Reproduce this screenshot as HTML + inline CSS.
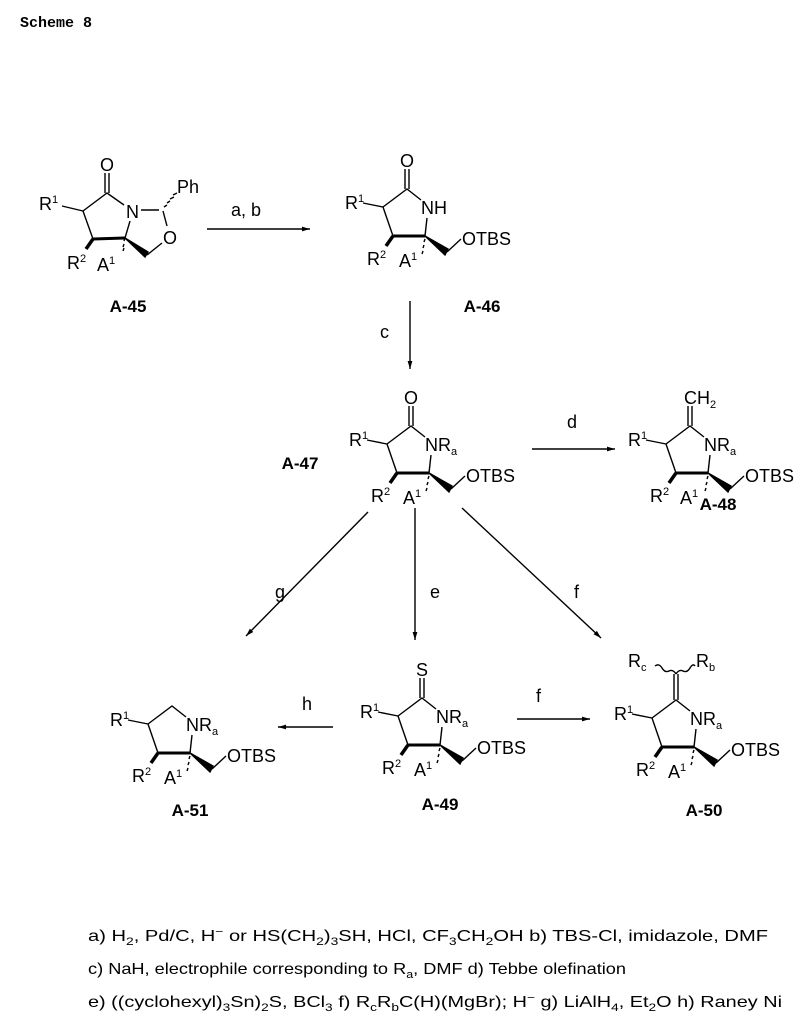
<!DOCTYPE html>
<html><head><meta charset="utf-8"><style>
html,body{margin:0;padding:0;background:#fff;}
svg{display:block;}
text{font-family:"Liberation Sans",sans-serif;font-size:18px;fill:#000;}
.lbl{font-weight:bold;font-size:17px;}
.fn{font-size:16px;}
</style></head><body>
<svg width="808" height="1024" viewBox="0 0 808 1024" xmlns="http://www.w3.org/2000/svg">
<defs>
<marker id="ah" viewBox="0 0 10 10" refX="10" refY="5" markerWidth="8" markerHeight="8" orient="auto" markerUnits="userSpaceOnUse"><path d="M0,2 L10,5 L0,8 z" fill="#000"/></marker>
</defs>
<text x="20" y="27" style="font-family:'Liberation Mono',monospace;font-weight:bold;font-size:15px">Scheme 8</text>

<g stroke="#000" stroke-width="1.4" fill="none">
<line x1="207" y1="229" x2="310" y2="229" marker-end="url(#ah)"/>
<line x1="410" y1="301" x2="410" y2="369" marker-end="url(#ah)"/>
<line x1="532" y1="449" x2="615" y2="449" marker-end="url(#ah)"/>
<line x1="368" y1="512" x2="246" y2="636" marker-end="url(#ah)"/>
<line x1="415" y1="508" x2="415" y2="640" marker-end="url(#ah)"/>
<line x1="462" y1="508" x2="601" y2="638" marker-end="url(#ah)"/>
<line x1="333" y1="727" x2="278" y2="727" marker-end="url(#ah)"/>
<line x1="517" y1="719" x2="590" y2="719" marker-end="url(#ah)"/>
</g>
<text x="231" y="216">a, b</text>
<text x="380" y="338">c</text>
<text x="567" y="428">d</text>
<text x="275" y="598">g</text>
<text x="430" y="598">e</text>
<text x="574" y="598">f</text>
<text x="302" y="710">h</text>
<text x="536" y="702">f</text>

<!-- A-45 -->
<g transform="translate(107,193)" stroke="#000" stroke-width="1.4" fill="none">
<line x1="-2" y1="-20" x2="-2" y2="0"/><line x1="2" y1="-20" x2="2" y2="0"/>
<polyline points="-24,18 0,0 17,12"/>
<line x1="-24" y1="18" x2="-14" y2="46"/>
<line x1="-14" y1="46" x2="18" y2="45" stroke-width="3"/>
<line x1="23" y1="28" x2="18" y2="45"/>
<line x1="-24" y1="18" x2="-45" y2="13"/>
<line x1="-14" y1="46" x2="-21" y2="56" stroke-width="3.5"/>
<path d="M18,45 l-1,3 M18,45 m-1,6 l-1,3 M17,55 l-1,3" />
<polygon points="18,45 38,64 41,59" fill="#000"/>
<line x1="40" y1="62" x2="55" y2="50"/>
<line x1="34" y1="17" x2="52" y2="17"/>
<line x1="56" y1="18" x2="60" y2="33"/>
<path d="M57,14 l3,-2 M60,10 l3,-2 M63,6 l4,-2 M66,2 l4,-2" />
</g>
<g transform="translate(107,193)">
<text x="0" y="-22" text-anchor="middle">O</text>
<text x="19" y="25">N</text>
<text x="56" y="51">O</text>
<text x="70" y="0">Ph</text>
<text x="-68" y="17">R<tspan font-size="11" dy="-7">1</tspan></text>
<text x="-40" y="76">R<tspan font-size="11" dy="-7">2</tspan></text>
<text x="-10" y="78">A<tspan font-size="11" dy="-7">1</tspan></text>
</g>
<text x="128" y="312" class="lbl" text-anchor="middle">A-45</text>

<!-- A-46 -->
<g transform="translate(407,189)">
<g stroke="#000" stroke-width="1.4" fill="none">
<line x1="-2" y1="-20" x2="-2" y2="0"/><line x1="2" y1="-20" x2="2" y2="0"/>
<polyline points="-24,18 0,0 14,11"/>
<line x1="-24" y1="18" x2="-14" y2="47"/>
<line x1="-14" y1="47" x2="18" y2="47" stroke-width="3"/>
<line x1="20" y1="29" x2="18" y2="47"/>
<line x1="-24" y1="18" x2="-44" y2="14"/>
<line x1="-14" y1="47" x2="-21" y2="57" stroke-width="3.5"/>
<path d="M18,50 l-1,3 M17,56 l-1,3 M16,62 l-1,3"/>
<polygon points="18,47 38,66 41,60" fill="#000"/>
<line x1="40" y1="63" x2="54" y2="50"/>
</g>
<text x="0" y="-22" text-anchor="middle">O</text>
<text x="14" y="25">NH</text>
<text x="55" y="56">OTBS</text>
<text x="-62" y="20">R<tspan font-size="11" dy="-7">1</tspan></text>
<text x="-40" y="76">R<tspan font-size="11" dy="-7">2</tspan></text>
<text x="-8" y="78">A<tspan font-size="11" dy="-7">1</tspan></text>
</g>
<text x="482" y="312" class="lbl" text-anchor="middle">A-46</text>

<!-- A-47 -->
<g transform="translate(411,426)">
<g stroke="#000" stroke-width="1.4" fill="none">
<line x1="-2" y1="-20" x2="-2" y2="0"/><line x1="2" y1="-20" x2="2" y2="0"/>
<polyline points="-24,18 0,0 14,11"/>
<line x1="-24" y1="18" x2="-14" y2="47"/>
<line x1="-14" y1="47" x2="18" y2="47" stroke-width="3"/>
<line x1="20" y1="29" x2="18" y2="47"/>
<line x1="-24" y1="18" x2="-44" y2="14"/>
<line x1="-14" y1="47" x2="-21" y2="57" stroke-width="3.5"/>
<path d="M18,50 l-1,3 M17,56 l-1,3 M16,62 l-1,3"/>
<polygon points="18,47 38,66 41,60" fill="#000"/>
<line x1="40" y1="63" x2="54" y2="50"/>
</g>
<text x="0" y="-22" text-anchor="middle">O</text>
<text x="14" y="25">NR<tspan font-size="11" dy="4">a</tspan></text>
<text x="55" y="56">OTBS</text>
<text x="-62" y="20">R<tspan font-size="11" dy="-7">1</tspan></text>
<text x="-40" y="76">R<tspan font-size="11" dy="-7">2</tspan></text>
<text x="-8" y="78">A<tspan font-size="11" dy="-7">1</tspan></text>
</g>
<text x="300" y="469" class="lbl" text-anchor="middle">A-47</text>

<!-- A-48 -->
<g transform="translate(690,426)">
<g stroke="#000" stroke-width="1.4" fill="none">
<line x1="-2" y1="-20" x2="-2" y2="0"/><line x1="2" y1="-20" x2="2" y2="0"/>
<polyline points="-24,18 0,0 14,11"/>
<line x1="-24" y1="18" x2="-14" y2="47"/>
<line x1="-14" y1="47" x2="18" y2="47" stroke-width="3"/>
<line x1="20" y1="29" x2="18" y2="47"/>
<line x1="-24" y1="18" x2="-44" y2="14"/>
<line x1="-14" y1="47" x2="-21" y2="57" stroke-width="3.5"/>
<path d="M18,50 l-1,3 M17,56 l-1,3 M16,62 l-1,3"/>
<polygon points="18,47 38,66 41,60" fill="#000"/>
<line x1="40" y1="63" x2="54" y2="50"/>
</g>
<text x="-6" y="-22">CH<tspan font-size="11" dy="4">2</tspan></text>
<text x="14" y="25">NR<tspan font-size="11" dy="4">a</tspan></text>
<text x="55" y="56">OTBS</text>
<text x="-62" y="20">R<tspan font-size="11" dy="-7">1</tspan></text>
<text x="-40" y="76">R<tspan font-size="11" dy="-7">2</tspan></text>
<text x="-10" y="78">A<tspan font-size="11" dy="-7">1</tspan></text>
</g>
<text x="718" y="510" class="lbl" text-anchor="middle">A-48</text>

<!-- A-51 -->
<g transform="translate(172,706)">
<g stroke="#000" stroke-width="1.4" fill="none">
<polyline points="-24,18 0,0 14,11"/>
<line x1="-24" y1="18" x2="-14" y2="47"/>
<line x1="-14" y1="47" x2="18" y2="47" stroke-width="3"/>
<line x1="20" y1="29" x2="18" y2="47"/>
<line x1="-24" y1="18" x2="-44" y2="14"/>
<line x1="-14" y1="47" x2="-21" y2="57" stroke-width="3.5"/>
<path d="M18,50 l-1,3 M17,56 l-1,3 M16,62 l-1,3"/>
<polygon points="18,47 38,66 41,60" fill="#000"/>
<line x1="40" y1="63" x2="54" y2="50"/>
</g>
<text x="14" y="25">NR<tspan font-size="11" dy="4">a</tspan></text>
<text x="55" y="56">OTBS</text>
<text x="-62" y="20">R<tspan font-size="11" dy="-7">1</tspan></text>
<text x="-40" y="76">R<tspan font-size="11" dy="-7">2</tspan></text>
<text x="-8" y="78">A<tspan font-size="11" dy="-7">1</tspan></text>
</g>
<text x="190" y="816" class="lbl" text-anchor="middle">A-51</text>

<!-- A-49 -->
<g transform="translate(422,698)">
<g stroke="#000" stroke-width="1.4" fill="none">
<line x1="-2" y1="-20" x2="-2" y2="0"/><line x1="2" y1="-20" x2="2" y2="0"/>
<polyline points="-24,18 0,0 14,11"/>
<line x1="-24" y1="18" x2="-14" y2="47"/>
<line x1="-14" y1="47" x2="18" y2="47" stroke-width="3"/>
<line x1="20" y1="29" x2="18" y2="47"/>
<line x1="-24" y1="18" x2="-44" y2="14"/>
<line x1="-14" y1="47" x2="-21" y2="57" stroke-width="3.5"/>
<path d="M18,50 l-1,3 M17,56 l-1,3 M16,62 l-1,3"/>
<polygon points="18,47 38,66 41,60" fill="#000"/>
<line x1="40" y1="63" x2="54" y2="50"/>
</g>
<text x="0" y="-22" text-anchor="middle">S</text>
<text x="14" y="25">NR<tspan font-size="11" dy="4">a</tspan></text>
<text x="55" y="56">OTBS</text>
<text x="-62" y="20">R<tspan font-size="11" dy="-7">1</tspan></text>
<text x="-40" y="76">R<tspan font-size="11" dy="-7">2</tspan></text>
<text x="-8" y="78">A<tspan font-size="11" dy="-7">1</tspan></text>
</g>
<text x="440" y="810" class="lbl" text-anchor="middle">A-49</text>

<!-- A-50 -->
<g transform="translate(676,700)">
<g stroke="#000" stroke-width="1.4" fill="none">
<line x1="-2" y1="-26" x2="-2" y2="0"/><line x1="2" y1="-26" x2="2" y2="0"/>
<path d="M0,-26 q-3,-5 -7,-3 t-7,-3 t-7,-2"/>
<path d="M0,-26 q3,-5 7,-3 t7,-3 t5,-2"/>
<polyline points="-24,18 0,0 14,11"/>
<line x1="-24" y1="18" x2="-14" y2="47"/>
<line x1="-14" y1="47" x2="18" y2="47" stroke-width="3"/>
<line x1="20" y1="29" x2="18" y2="47"/>
<line x1="-24" y1="18" x2="-44" y2="14"/>
<line x1="-14" y1="47" x2="-21" y2="57" stroke-width="3.5"/>
<path d="M18,50 l-1,3 M17,56 l-1,3 M16,62 l-1,3"/>
<polygon points="18,47 38,66 41,60" fill="#000"/>
<line x1="40" y1="63" x2="54" y2="50"/>
</g>
<text x="-48" y="-33">R<tspan font-size="11" dy="4">c</tspan></text>
<text x="20" y="-33">R<tspan font-size="11" dy="4">b</tspan></text>
<text x="14" y="25">NR<tspan font-size="11" dy="4">a</tspan></text>
<text x="55" y="56">OTBS</text>
<text x="-62" y="20">R<tspan font-size="11" dy="-7">1</tspan></text>
<text x="-40" y="76">R<tspan font-size="11" dy="-7">2</tspan></text>
<text x="-8" y="78">A<tspan font-size="11" dy="-7">1</tspan></text>
</g>
<text x="704" y="816" class="lbl" text-anchor="middle">A-50</text>

<!-- footnotes -->
<text class="fn" x="88" y="941" textLength="680" lengthAdjust="spacingAndGlyphs">a) H<tspan font-size="11" dy="4">2</tspan><tspan dy="-4">, Pd/C, H</tspan><tspan font-size="11" dy="-6">−</tspan><tspan dy="6">  or  HS(CH</tspan><tspan font-size="11" dy="4">2</tspan><tspan dy="-4">)</tspan><tspan font-size="11" dy="4">3</tspan><tspan dy="-4">SH, HCl, CF</tspan><tspan font-size="11" dy="4">3</tspan><tspan dy="-4">CH</tspan><tspan font-size="11" dy="4">2</tspan><tspan dy="-4">OH  b) TBS-Cl, imidazole, DMF</tspan></text>
<text class="fn" x="88" y="974" textLength="538" lengthAdjust="spacingAndGlyphs">c) NaH, electrophile corresponding to R<tspan font-size="11" dy="4">a</tspan><tspan dy="-4">, DMF  d) Tebbe olefination</tspan></text>
<text class="fn" x="88" y="1007" textLength="694" lengthAdjust="spacingAndGlyphs">e) ((cyclohexyl)<tspan font-size="11" dy="4">3</tspan><tspan dy="-4">Sn)</tspan><tspan font-size="11" dy="4">2</tspan><tspan dy="-4">S, BCl</tspan><tspan font-size="11" dy="4">3</tspan><tspan dy="-4">  f) R</tspan><tspan font-size="11" dy="4">c</tspan><tspan dy="-4">R</tspan><tspan font-size="11" dy="4">b</tspan><tspan dy="-4">C(H)(MgBr); H</tspan><tspan font-size="11" dy="-6">−</tspan><tspan dy="6">  g) LiAlH</tspan><tspan font-size="11" dy="4">4</tspan><tspan dy="-4">, Et</tspan><tspan font-size="11" dy="4">2</tspan><tspan dy="-4">O  h) Raney Ni</tspan></text>
</svg>
</body></html>
